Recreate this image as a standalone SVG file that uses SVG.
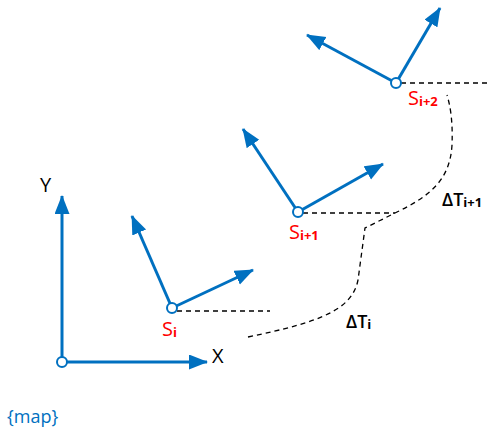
<svg xmlns="http://www.w3.org/2000/svg" width="490" height="432" viewBox="0 0 490 432">
<style>
.ax{stroke:#0070C0;stroke-width:3;fill:none;marker-end:url(#ah)}
.pt{fill:#fff;stroke:#0070C0;stroke-width:2}
.ds{stroke:#000;stroke-width:1.3;stroke-dasharray:5,4;fill:none}
.lb{font-family:"Open Sans","Liberation Sans",sans-serif;font-size:20px;fill:#000}
.dt{font-family:"Open Sans","Liberation Sans",sans-serif;font-size:18px;font-weight:600;fill:#000}
.rd{font-family:"Open Sans","Liberation Sans",sans-serif;font-size:20px;fill:#FF0000}
.sub{font-size:13px;font-weight:bold}
</style>
<defs>
<marker id="ah" markerUnits="userSpaceOnUse" markerWidth="20" markerHeight="16" refX="18" refY="7.5" orient="auto">
<path d="M0,0 L19,7.5 L0,15 Z" fill="#0070C0"/>
</marker>
</defs>
<g id="connectors">
<path class="ds" d="M177,311 L270,311"/>
<path class="ds" d="M303,213 L395,213"/>
<path class="ds" d="M401,83 L490,83"/>
<path class="ds" d="M248,337 C320,322 352,310 358,280 L365,228 L397,212 C430,196 450,180 452,145 C453,120 450,105 447,95"/>
</g>
<g id="map-frame">
<line class="ax" x1="62" y1="362" x2="207" y2="362"/>
<line class="ax" x1="62" y1="362" x2="62" y2="196"/>
<circle class="pt" cx="62" cy="362" r="5"/>
<text class="lb" x="40" y="192">Y</text>
<text class="lb" x="212" y="363">X</text>
<text x="7" y="423" style="font-family:'Open Sans','Liberation Sans',sans-serif;font-size:18px;fill:#0070C0">{map}</text>
</g>
<g id="s-i">
<line class="ax" x1="172" y1="308" x2="132" y2="216"/>
<line class="ax" x1="172" y1="308" x2="253" y2="270"/>
<circle class="pt" cx="172" cy="308" r="5"/>
<text class="rd" x="162" y="336">S<tspan class="sub" dy="1">i</tspan></text>
</g>
<g id="s-i1">
<line class="ax" x1="298" y1="212" x2="243" y2="129"/>
<line class="ax" x1="298" y1="212" x2="383" y2="164"/>
<circle class="pt" cx="298" cy="212" r="5"/>
<text class="rd" x="289" y="239">S<tspan class="sub" dy="1">i+1</tspan></text>
</g>
<g id="s-i2">
<line class="ax" x1="396" y1="83" x2="307" y2="35"/>
<line class="ax" x1="396" y1="83" x2="440" y2="8"/>
<circle class="pt" cx="396" cy="83" r="5"/>
<text class="rd" x="408" y="105">S<tspan class="sub" dy="1">i+2</tspan></text>
</g>
<g id="labels">
<text class="dt" x="346" y="328">ΔT<tspan class="sub" dy="1">i</tspan></text>
<text class="dt" x="442" y="206">ΔT<tspan class="sub" dy="1">i+1</tspan></text>
</g>
</svg>
